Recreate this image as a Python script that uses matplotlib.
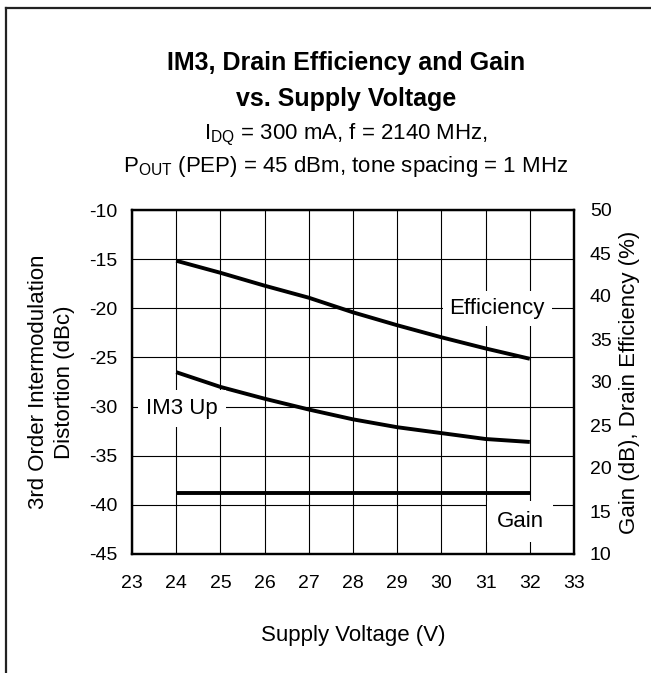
import matplotlib
matplotlib.use("Agg")
import matplotlib.pyplot as plt
from matplotlib.lines import Line2D

plt.rcParams["font.family"] = ["Liberation Sans", "DejaVu Sans"]
plt.rcParams["mathtext.fontset"] = "custom"
plt.rcParams["mathtext.rm"] = "Liberation Sans"
plt.rcParams["mathtext.it"] = "Liberation Sans:italic"
plt.rcParams["mathtext.bf"] = "Liberation Sans:bold"
plt.rcParams["axes.unicode_minus"] = False

# ---------------------------------------------------------------------------
# DATA
# ---------------------------------------------------------------------------
supply_v   = [24, 25, 26, 27, 28, 29, 30, 31, 32]
im3_up     = [-26.5, -28.0, -29.2, -30.3, -31.3, -32.1, -32.7, -33.3, -33.6]   # dBc, left axis
efficiency = [44.1, 42.7, 41.2, 39.8, 38.1, 36.6, 35.2, 33.9, 32.7]            # %, right axis
gain       = [17.1, 17.1, 17.1, 17.1, 17.1, 17.1, 17.1, 17.1, 17.1]            # dB, right axis

x_ticks     = list(range(23, 34))
left_ticks  = [-10, -15, -20, -25, -30, -35, -40, -45]
right_ticks = [50, 45, 40, 35, 30, 25, 20, 15, 10]

W, H = 651, 673
fig = plt.figure(figsize=(W / 100, H / 100), dpi=100)

# frame around the figure (only top and left edges visible in the crop)
fig.add_artist(Line2D([6 / W, 6 / W], [0, 1 - 8 / H], transform=fig.transFigure,
                      color="#222222", lw=1.6))
fig.add_artist(Line2D([6 / W, 1], [1 - 8 / H, 1 - 8 / H], transform=fig.transFigure,
                      color="#222222", lw=1.6))

ax = fig.add_axes([132 / W, 1 - 554 / H, 442 / W, 344 / H])
ax2 = ax.twinx()

ax.set_xlim(23, 33)
ax.set_ylim(-45, -10)
ax2.set_ylim(10, 50)
ax.set_xticks(x_ticks)
ax.set_yticks(left_ticks)
ax2.set_yticks(right_ticks)

ax.grid(True, color="black", lw=0.8)
ax.set_axisbelow(True)
for a in (ax, ax2):
    for s in a.spines.values():
        s.set_linewidth(1.6)
ax.tick_params(axis="both", length=0, labelsize=14)
ax.tick_params(axis="x", pad=15)
ax.tick_params(axis="y", pad=10.5)
ax2.tick_params(axis="y", length=0, labelsize=14, pad=11.5)

ax.plot(supply_v, im3_up, color="black", lw=2.8, solid_capstyle="butt")
ax2.plot(supply_v, efficiency, color="black", lw=2.8, solid_capstyle="butt")
ax2.plot(supply_v, gain, color="black", lw=2.8, solid_capstyle="butt")

ax.text(24.13, -30.2, "IM3 Up", fontsize=16, ha="center", va="center",
        bbox=dict(facecolor="white", edgecolor="none", pad=6), zorder=5)
ax.text(31.26, -20.0, "Efficiency", fontsize=16, ha="center", va="center",
        bbox=dict(facecolor="white", edgecolor="none", pad=5), zorder=5)
ax.text(31.78, -41.7, "Gain", fontsize=16, ha="center", va="center",
        bbox=dict(facecolor="white", edgecolor="none", pad=7), zorder=5)

ax.set_xlabel("Supply Voltage (V)", fontsize=16, labelpad=24)
ax.set_ylabel("3rd Order Intermodulation\nDistortion (dBc)", fontsize=16, labelpad=10,
              linespacing=1.35)
ax2.set_ylabel("Gain (dB), Drain Efficiency (%)", fontsize=16, labelpad=5)

cx = 346 / W
fig.text(cx, 1 - 70 / H, "IM3, Drain Efficiency and Gain", ha="center", va="baseline",
         fontsize=18, fontweight="bold")
fig.text(cx, 1 - 106 / H, "vs. Supply Voltage", ha="center", va="baseline",
         fontsize=18, fontweight="bold")
fig.text(cx, 1 - 139 / H, r"I$_\mathrm{DQ}$ = 300 mA, f = 2140 MHz,", ha="center",
         va="baseline", fontsize=16)
fig.text(cx, 1 - 172 / H, r"P$_\mathrm{OUT}$ (PEP) = 45 dBm, tone spacing = 1 MHz", ha="center",
         va="baseline", fontsize=16)

fig.savefig("out.png", dpi=100, facecolor="white")
